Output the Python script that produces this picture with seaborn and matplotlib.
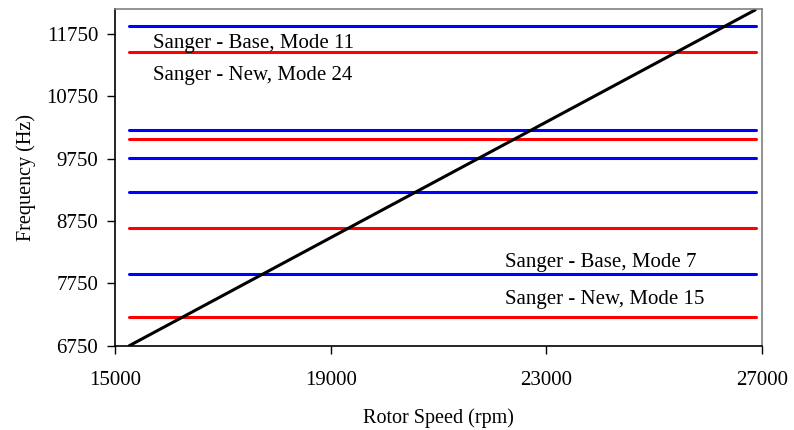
import pandas as pd
import seaborn as sns
import matplotlib.pyplot as plt

# DATA
base_freq = [11883, 10215, 9766, 9220, 7904]   # Sanger - Base modes (Hz)
new_freq = [11466, 10061, 8641, 7214]          # Sanger - New modes (Hz)
span_rpm = [15260, 26890]                      # extent of the mode lines
order_rpm = [15265, 26873]                     # excitation line
order_freq = [6750, 12135]
x_ticks = [15000, 19000, 23000, 27000]
y_ticks = [6750, 7750, 8750, 9750, 10750, 11750]

# LONG-FORM TABLE FOR SEABORN
rows = []
for i, f in enumerate(base_freq):
    for r in span_rpm:
        rows.append({"rpm": r, "freq": f, "line": "base%d" % i, "set": "Base"})
for i, f in enumerate(new_freq):
    for r in span_rpm:
        rows.append({"rpm": r, "freq": f, "line": "new%d" % i, "set": "New"})
df = pd.DataFrame(rows)
order = pd.DataFrame({"rpm": order_rpm, "freq": order_freq})

sns.set_theme(style="white")
plt.rcParams['font.family'] = ['Liberation Serif', 'DejaVu Serif']

fig = plt.figure(figsize=(7.94, 4.30), dpi=100)
ax = fig.add_axes([0.1448, 0.196, 0.8149, 0.783])

sns.lineplot(data=df, x="rpm", y="freq", hue="set", units="line", estimator=None,
             palette={"Base": "#0000ff", "New": "#ff0000"}, linewidth=2.2,
             legend=False, ax=ax)
sns.lineplot(data=order, x="rpm", y="freq", color="black", linewidth=2.2, ax=ax)

ax.set_xlim(15000, 27000)
ax.set_ylim(6750, 12150)
ax.set_xticks(x_ticks)
ax.set_yticks(y_ticks)
ax.tick_params(axis="both", direction="out", length=6, width=1, color="black",
               labelsize=15, labelcolor="black", bottom=True, left=True, pad=6)
ax.tick_params(axis="x", pad=12)

for s in ["left", "bottom"]:
    ax.spines[s].set_color("black")
    ax.spines[s].set_linewidth(1.2)
for s in ["top", "right"]:
    ax.spines[s].set_color("#808080")
    ax.spines[s].set_linewidth(1.2)

ax.set_xlabel("Rotor Speed (rpm)", fontsize=14.5, color="black", labelpad=13)
ax.set_ylabel("Frequency (Hz)", fontsize=14.5, color="black", labelpad=7)

ax.text(15710, 11590, "Sanger - Base, Mode 11", fontsize=15, va="center", color="black")
ax.text(15710, 11080, "Sanger - New, Mode 24", fontsize=15, va="center", color="black")
ax.text(22230, 8090, "Sanger - Base, Mode 7", fontsize=15, va="center", color="black")
ax.text(22230, 7485, "Sanger - New, Mode 15", fontsize=15, va="center", color="black")

fig.savefig("out.png", dpi=100)
